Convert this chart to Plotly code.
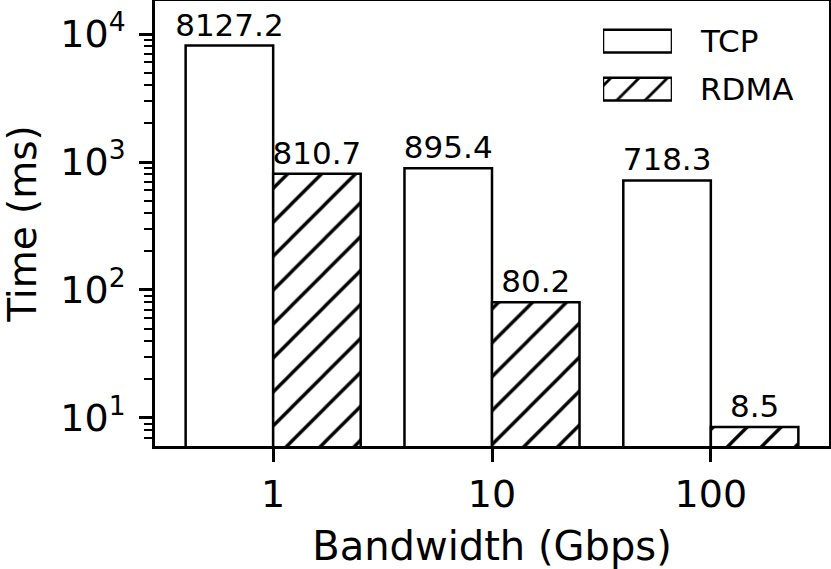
import plotly.graph_objects as go

categories = ["1", "10", "100"]
tcp_values = [8127.2, 895.4, 718.3]
rdma_values = [810.7, 80.2, 8.5]
series_names = ["TCP", "RDMA"]
y_tick_values = [10, 100, 1000, 10000]
y_tick_labels = ["10<sup>1</sup>", "10<sup>2</sup>", "10<sup>3</sup>", "10<sup>4</sup>"]

FONT = "DejaVu Sans"
LW = 2.5
x_pos = list(range(len(categories)))

hatch = dict(shape="/", size=24, solidity=0.14, fgcolor="black", bgcolor="white",
             fgopacity=1, fillmode="replace")

fig = go.Figure()
fig.add_trace(go.Bar(
    x=x_pos, y=tcp_values, name=series_names[0],
    marker=dict(color="white", line=dict(color="black", width=LW)),
    text=[f"{v:.1f}" for v in tcp_values], textposition="outside",
    textfont=dict(family=FONT, size=31, color="black"),
    constraintext="none", cliponaxis=False, showlegend=False,
))
fig.add_trace(go.Bar(
    x=x_pos, y=rdma_values, name=series_names[1],
    marker=dict(color="white", line=dict(color="black", width=LW), pattern=hatch),
    text=[f"{v:.1f}" for v in rdma_values], textposition="outside",
    textfont=dict(family=FONT, size=31, color="black"),
    constraintext="none", cliponaxis=False, showlegend=False,
))

# legend patches drawn on a small overlay axis
leg_y = [0.70, 0.34]
for i, nm in enumerate(series_names):
    mk = dict(color="white", line=dict(color="black", width=LW))
    if i == 1:
        mk["pattern"] = dict(hatch, size=20)
    fig.add_trace(go.Bar(
        x=[1], y=[leg_y[i]], base=0, orientation="h", width=0.17,
        marker=mk, xaxis="x2", yaxis="y2", showlegend=False, hoverinfo="skip",
    ))
    fig.add_annotation(
        xref="paper", yref="y2", x=0.806, y=leg_y[i], text=nm, showarrow=False,
        xanchor="left", yanchor="middle", font=dict(family=FONT, size=31, color="black"),
    )

fig.update_layout(
    width=831, height=569,
    margin=dict(l=155, r=2, t=1, b=123),
    paper_bgcolor="white", plot_bgcolor="white",
    barmode="group", bargap=0.2, bargroupgap=0,
    font=dict(family=FONT, color="black"),
    xaxis=dict(
        range=[-0.54, 2.54], tickvals=x_pos, ticktext=categories,
        showline=True, linecolor="black", linewidth=LW, mirror=True,
        ticks="outside", ticklen=13, tickwidth=LW, tickcolor="black",
        tickfont=dict(family=FONT, size=38), showgrid=False, zeroline=False,
        automargin=False,
        title=dict(text="Bandwidth (Gbps)", font=dict(family=FONT, size=40), standoff=17),
    ),
    yaxis=dict(
        type="log", range=[0.781, 4.258],
        tickvals=y_tick_values, ticktext=y_tick_labels,
        showline=True, linecolor="black", linewidth=LW, mirror=True,
        ticks="outside", ticklen=13, tickwidth=LW, tickcolor="black",
        tickfont=dict(family=FONT, size=38), showgrid=False, zeroline=False,
        ticklabelstandoff=6, automargin=False,
        minor=dict(ticks="outside", ticklen=8, tickwidth=2, tickcolor="black",
                   tickvals=[m * 10 ** k for k in range(0, 5) for m in range(2, 10)],
                   showgrid=False),
        title=dict(text="Time (ms)", font=dict(family=FONT, size=39), standoff=31),
    ),
    xaxis2=dict(domain=[0.6647, 0.767], range=[0, 1], visible=False, anchor="y2", fixedrange=True),
    yaxis2=dict(domain=[0.7, 1.0], range=[0, 1], visible=False, anchor="x2", fixedrange=True),
)

fig.write_html("out.html", config={"displayModeBar": False},
               post_script="document.body.style.margin='0';document.body.style.padding='0';")
